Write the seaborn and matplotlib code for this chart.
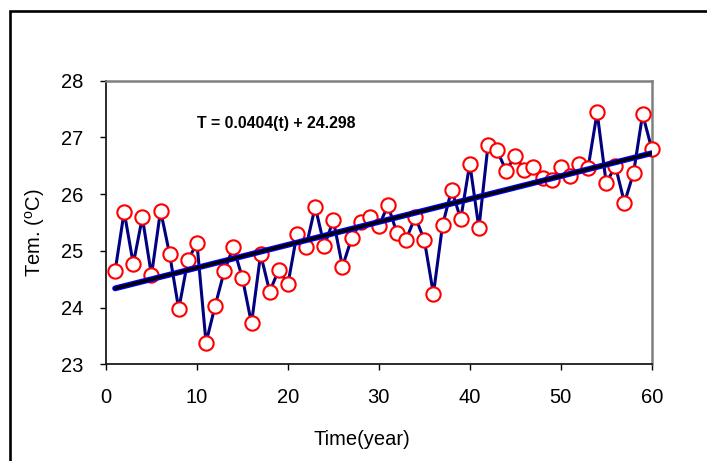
import seaborn as sns
import pandas as pd
import matplotlib.pyplot as plt
from matplotlib.patches import Rectangle

sns.set_theme(style="white")
plt.rcParams['font.family'] = ['Liberation Sans', 'DejaVu Sans']

# yearly temperature readings
years = list(range(1, 61))
temps = [24.64, 25.69, 24.77, 25.59, 24.57, 25.71, 24.94, 23.97, 24.83, 25.14,
         23.38, 24.03, 24.64, 25.07, 24.52, 23.72, 24.94, 24.28, 24.67, 24.41,
         25.30, 25.07, 25.78, 25.09, 25.54, 24.72, 25.22, 25.51, 25.60, 25.44,
         25.80, 25.31, 25.20, 25.60, 25.19, 24.24, 25.45, 26.08, 25.56, 26.54,
         25.40, 26.86, 26.77, 26.41, 26.68, 26.42, 26.48, 26.28, 26.25, 26.47,
         26.32, 26.53, 26.46, 27.44, 26.19, 26.50, 25.85, 26.37, 27.41, 26.80]

# linear trend T = slope*t + intercept
slope = 0.0404
intercept = 24.298

df = pd.DataFrame({"year": years, "temp": temps})
df["trend"] = slope * df["year"] + intercept

fig = plt.figure(figsize=(7.07, 4.61), dpi=100)
ax = fig.add_axes([0.1499, 0.2098, 0.7719, 0.6151])

# outer chart frame
fig.patches.append(Rectangle((10 / 707, -0.2), 1.2, 1.2 - 11 / 461,
                             transform=fig.transFigure, fill=False,
                             edgecolor='black', linewidth=1.9))

sns.lineplot(x="year", y="temp", data=df, ax=ax, color='#000080', linewidth=2.2,
             marker='o', markersize=10.3, markerfacecolor='white',
             markeredgecolor='#ff0000', markeredgewidth=1.5, zorder=3, clip_on=False)
sns.lineplot(x="year", y="trend", data=df, ax=ax, color='#0000ff', linewidth=4.2, zorder=4)
sns.lineplot(x="year", y="trend", data=df, ax=ax, color='black', linewidth=2.4, zorder=5)

fig.text(196.7 / 707, 1 - 123.3 / 461, "T = 0.0404(t) + 24.298",
         ha='left', va='center', fontsize=11.4, fontweight='bold', color='black')

ax.set_xlim(0, 60)
ax.set_ylim(23, 28)
ax.set_xticks(range(0, 61, 10))
ax.set_yticks(range(23, 29))
ax.tick_params(axis='both', direction='out', length=4.3, width=1, color='black',
               labelsize=14.5, labelcolor='black', left=True, bottom=True)
ax.tick_params(axis='y', pad=12)
ax.tick_params(axis='x', pad=13)

ax.set_xlabel("Time(year)", fontsize=14.5, va='center', color='black')
ax.set_ylabel(r"Tem. ($\mathregular{^o}$C)", fontsize=14.5, va='center', color='black')
ax.xaxis.set_label_coords(0.4686, -0.267)
ax.yaxis.set_label_coords(-0.130, 0.463)

for side in ['left', 'bottom']:
    ax.spines[side].set_color('#1a1a1a')
    ax.spines[side].set_linewidth(1.3)
for side in ['top', 'right']:
    ax.spines[side].set_color('#808080')
    ax.spines[side].set_linewidth(1.8)

plt.savefig('out.png', dpi=100)
